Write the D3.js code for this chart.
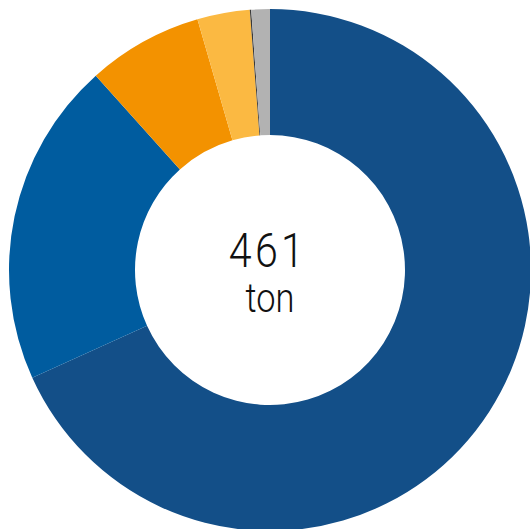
<!DOCTYPE html>
<html>
<head>
<meta charset="utf-8">
<script src="https://d3js.org/d3.v7.min.js"></script>
<style>
  body { margin: 0; background: #fff; }
</style>
</head>
<body>
<svg width="530" height="529"></svg>
<script>
    const categories = ["A", "B", "C", "D", "E", "F"];
    const values = [315, 93, 33, 15, 0.4, 5.3];
    const colors = ["#134f88", "#005c9f", "#f39200", "#fbb942", "#3a3a3a", "#b2b2b2"];
    const totalLabel = "461";
    const unitLabel = "ton";

    const svg = d3.select("svg");
    const cx = 270, cy = 270;
    const outerR = 261, innerR = 135;

    const pie = d3.pie().sort(null).value(d => d.value);
    const arc = d3.arc().innerRadius(innerR).outerRadius(outerR);

    const data = categories.map((c, i) => ({ name: c, value: values[i], color: colors[i] }));

    const g = svg.append("g").attr("transform", `translate(${cx},${cy})`);

    g.selectAll("path").data(pie(data)).enter().append("path")
        .attr("d", arc)
        .attr("fill", d => d.data.color);

    // condensed-looking labels: squeeze Roboto Light horizontally
    g.append("text")
        .attr("transform", "translate(-2,-3) scale(0.84,1)")
        .attr("text-anchor", "middle")
        .attr("font-family", "Roboto")
        .attr("font-weight", 300)
        .attr("font-size", 49)
        .attr("letter-spacing", 4)
        .attr("fill", "#111")
        .text(totalLabel);

    g.append("text")
        .attr("transform", "translate(0,42) scale(0.84,1)")
        .attr("text-anchor", "middle")
        .attr("font-family", "Roboto")
        .attr("font-weight", 300)
        .attr("font-size", 41)
        .attr("fill", "#111")
        .text(unitLabel);
</script>
</body>
</html>
